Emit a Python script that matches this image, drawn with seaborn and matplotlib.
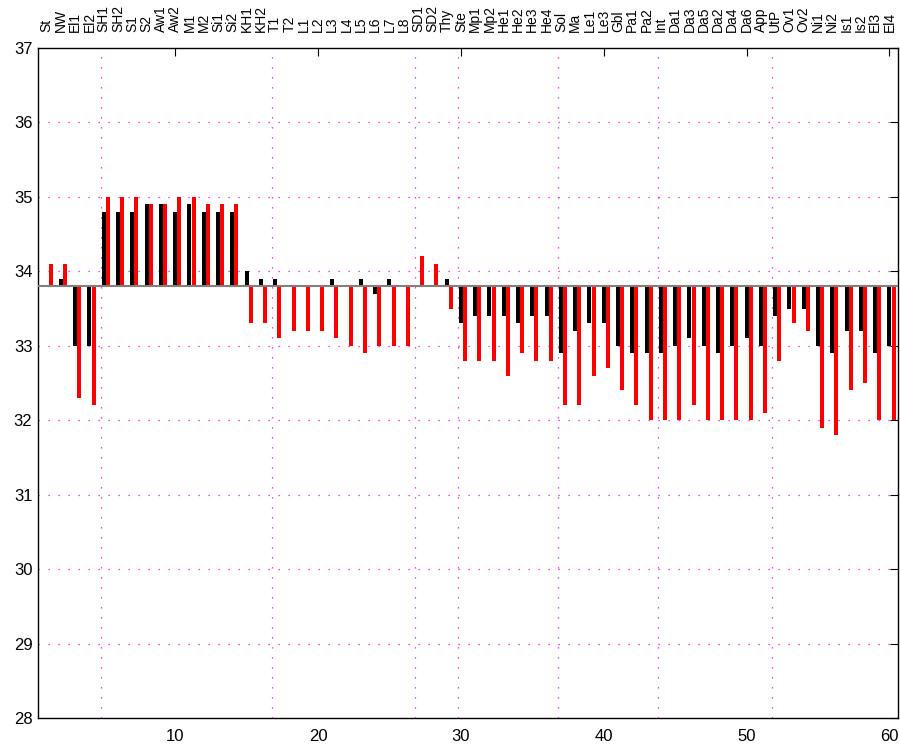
import matplotlib
matplotlib.use("Agg")
import matplotlib.pyplot as plt
import matplotlib.transforms as mtransforms
import seaborn as sns
import pandas as pd
import numpy as np

# categorias (rótulos do topo)
rotulos = ["St", "NW", "El1", "El2", "SH1", "SH2", "S1", "S2", "Aw1", "Aw2",
           "M1", "M2", "Si1", "Si2", "KH1", "KH2", "T1", "T2", "L1", "L2",
           "L3", "L4", "L5", "L6", "L7", "L8", "SD1", "SD2", "Thy", "Ste",
           "Mp1", "Mp2", "He1", "He2", "He3", "He4", "Sol", "Ma", "Le1", "Le3",
           "Gbl", "Pa1", "Pa2", "Int", "Da1", "Da3", "Da5", "Da2", "Da4", "Da6",
           "App", "UtP", "Ov1", "Ov2", "Ni1", "Ni2", "Is1", "Is2", "El3", "El4"]

# série preta
valores_preto = [33.8, 33.9, 33.0, 33.0, 34.8, 34.8, 34.8, 34.9, 34.9, 34.8,
                 34.9, 34.8, 34.8, 34.8, 34.0, 33.9, 33.9, 33.8, 33.8, 33.8,
                 33.9, 33.8, 33.9, 33.7, 33.9, 33.8, 33.8, 33.8, 33.9, 33.3,
                 33.4, 33.4, 33.4, 33.3, 33.4, 33.4, 32.9, 33.2, 33.3, 33.3,
                 33.0, 32.9, 32.9, 32.9, 33.0, 33.1, 33.0, 32.9, 33.0, 33.1,
                 33.0, 33.4, 33.5, 33.5, 33.0, 32.9, 33.2, 33.2, 32.9, 33.0]

# série vermelha
valores_vermelho = [34.1, 34.1, 32.3, 32.2, 35.0, 35.0, 35.0, 34.9, 34.9, 35.0,
                    35.0, 34.9, 34.9, 34.9, 33.3, 33.3, 33.1, 33.2, 33.2, 33.2,
                    33.1, 33.0, 32.9, 33.0, 33.0, 33.0, 34.2, 34.1, 33.5, 32.8,
                    32.8, 32.8, 32.6, 32.9, 32.8, 32.8, 32.2, 32.2, 32.6, 32.7,
                    32.4, 32.2, 32.0, 32.0, 32.0, 32.2, 32.0, 32.0, 32.0, 32.0,
                    32.1, 32.8, 33.3, 33.2, 31.9, 31.8, 32.4, 32.5, 32.0, 32.0]

linha_base = 33.8
separadores = [4.8, 16.8, 26.8, 29.8, 36.8, 43.8, 51.8]
ticks_x = [10, 20, 30, 40, 50, 60]
ticks_y = [28, 29, 30, 31, 32, 33, 34, 35, 36, 37]

C_MAGENTA = "#ff00ff"
DESLOC = 0.29
LARGURA = 0.28

sns.set_style("white")
plt.rcParams['font.family'] = ['Liberation Sans', 'DejaVu Sans']

pos = np.arange(1, len(rotulos) + 1)
df_preto = pd.DataFrame({'pos': pos, 'h': np.array(valores_preto) - linha_base})
df_verm = pd.DataFrame({'pos': pos + DESLOC, 'h': np.array(valores_vermelho) - linha_base})

fig = plt.figure(figsize=(9, 7.47), dpi=100)
ax = fig.add_axes([0.0422, 0.0388, 0.9556, 0.8969])

# grade pontilhada magenta
for yv in ticks_y[1:-1]:
    ax.axhline(yv, color=C_MAGENTA, lw=0.9, linestyle=(0, (1, 7)), zorder=0.5)
for xv in separadores:
    ax.axvline(xv, color=C_MAGENTA, lw=0.9, linestyle=(0, (1, 7)), zorder=0.5)

sns.barplot(data=df_preto, x='pos', y='h', native_scale=True, width=LARGURA,
            color='black', saturation=1, bottom=linha_base, linewidth=0,
            errorbar=None, ax=ax, zorder=2)
sns.barplot(data=df_verm, x='pos', y='h', native_scale=True, width=LARGURA,
            color='#ff0000', saturation=1, bottom=linha_base, linewidth=0,
            errorbar=None, ax=ax, zorder=2)

ax.axhline(linha_base, color='#808080', lw=1.5, zorder=3)

ax.set_xlim(0.4, 60.6)
ax.set_ylim(28, 37)
ax.set_xticks(ticks_x)
ax.set_yticks(ticks_y)
ax.set_xlabel("")
ax.set_ylabel("")
ax.tick_params(direction='in', length=6, width=0.8, top=True, right=True,
               labelsize=12, colors='black')
ax.tick_params(axis='x', pad=8)
ax.tick_params(axis='y', pad=4)
for s in ax.spines.values():
    s.set_color('black')
    s.set_linewidth(1.0)

trans = mtransforms.blended_transform_factory(ax.transData, ax.transAxes)
for p, r in zip(pos, rotulos):
    ax.text(p, 1.024, r, transform=trans, rotation=90, ha='center', va='bottom',
            fontsize=10, color='black')

plt.savefig("out.png", dpi=100)
plt.close()
